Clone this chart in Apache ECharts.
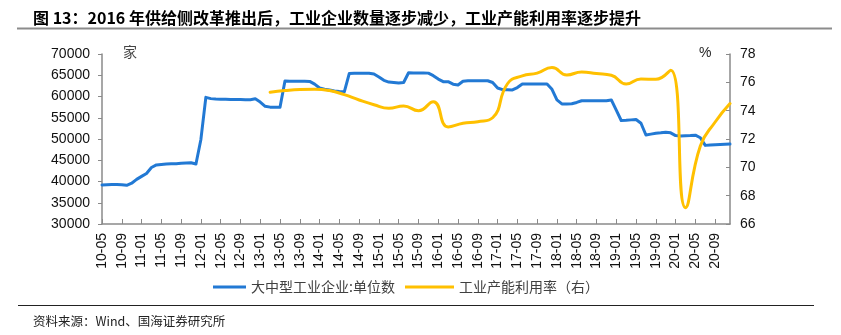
<!DOCTYPE html>
<html>
<head>
<meta charset="utf-8">
<script src="https://cdn.jsdelivr.net/npm/echarts@6/dist/echarts.min.js"></script>
<style>
html,body{margin:0;padding:0;background:#fff;}
#c{width:841px;height:335px;}
</style>
</head>
<body>
<div id="c"></div>
<script>
const titleText = '图 13：2016 年供给侧改革推出后，工业企业数量逐步减少，工业产能利用率逐步提升';
const sourceText = '资料来源：Wind、国海证券研究所';
const seriesNames = ['大中型工业企业:单位数', '工业产能利用率（右）'];

const categories = [
 '10-05','10-06','10-07','10-08','10-09','10-10','10-11','10-12',
 '11-01','11-02','11-03','11-04','11-05','11-06','11-07','11-08','11-09','11-10','11-11','11-12',
 '12-01','12-02','12-03','12-04','12-05','12-06','12-07','12-08','12-09','12-10','12-11','12-12',
 '13-01','13-02','13-03','13-04','13-05','13-06','13-07','13-08','13-09','13-10','13-11','13-12',
 '14-01','14-02','14-03','14-04','14-05','14-06','14-07','14-08','14-09','14-10','14-11','14-12',
 '15-01','15-02','15-03','15-04','15-05','15-06','15-07','15-08','15-09','15-10','15-11','15-12',
 '16-01','16-02','16-03','16-04','16-05','16-06','16-07','16-08','16-09','16-10','16-11','16-12',
 '17-01','17-02','17-03','17-04','17-05','17-06','17-07','17-08','17-09','17-10','17-11','17-12',
 '18-01','18-02','18-03','18-04','18-05','18-06','18-07','18-08','18-09','18-10','18-11','18-12',
 '19-01','19-02','19-03','19-04','19-05','19-06','19-07','19-08','19-09','19-10','19-11','19-12',
 '20-01','20-02','20-03','20-04','20-05','20-06','20-07','20-08','20-09','20-10','20-11','20-12'
];

// 大中型工业企业:单位数 (monthly)
const enterprises = [
 39200,39250,39300,39300,39250,39100,39600,40500,
 41200,41900,43300,43900,44000,44100,44150,44200,44300,44350,44400,44100,
 49900,59800,59500,59400,59350,59350,59300,59300,59300,59250,59250,59450,
 58700,57700,57500,57500,57450,63650,63600,63600,63600,63600,63550,62900,
 62000,61700,61550,61300,61150,61100,65400,65450,65450,65450,65450,65300,
 64600,63800,63400,63300,63150,63300,65600,65550,65550,65550,65500,64900,
 64100,63500,63500,62900,62700,63600,63700,63700,63700,63700,63700,63300,
 62000,61600,61600,61550,62100,62950,62950,62950,62950,62950,62950,61700,
 59200,58250,58250,58300,58600,59000,59000,59000,59000,59000,59000,59200,
 56800,54350,54400,54500,54600,53700,50950,51150,51350,51450,51600,51450,
 50800,50700,50750,50800,50900,50300,48500,48600,48650,48700,48750,48800
];

// 工业产能利用率 (quarterly, %)
const capMonths = [
 '13-03','13-06','13-09','13-12','14-03','14-06','14-09','14-12',
 '15-03','15-06','15-09','15-12','16-03','16-06','16-09','16-12',
 '17-03','17-06','17-09','17-12','18-03','18-06','18-09','18-12',
 '19-03','19-06','19-09','19-12','20-03','20-06','20-09','20-12'
];
const capRate = [
 75.30,75.42,75.50,75.52,75.42,75.13,74.75,74.42,
 74.17,74.33,74.00,74.63,72.85,73.11,73.22,73.50,
 75.90,76.45,76.65,77.05,76.52,76.73,76.62,76.50,
 75.88,76.24,76.21,76.85,67.15,71.50,73.20,74.50
];

const leftTicks = {min: 30000, max: 70000, interval: 5000};
const rightTicks = {min: 66, max: 78, interval: 2};

const axisGray = '#8a8a8a';
const labelFont = {fontFamily: 'Liberation Sans, Arial, sans-serif', fontSize: 14, color: '#111'};
const cjk = 'Noto Sans CJK SC, sans-serif';

const chart = echarts.init(document.getElementById('c'), null, {renderer: 'canvas'});
chart.setOption({
  animation: false,
  backgroundColor: '#fff',
  title: [
    {text: titleText, left: 28, top: 5,
     textStyle: {fontFamily: cjk, fontSize: 16, fontWeight: 'bold', color: '#000'}},
    {text: sourceText, left: 28, top: 310,
     textStyle: {fontFamily: cjk, fontSize: 12.5, fontWeight: 'normal', color: '#222'}}
  ],
  graphic: [
    {type: 'line', shape: {x1: 17, y1: 28.5, x2: 832, y2: 28.5}, style: {stroke: '#8c8c8c', lineWidth: 2}},
    {type: 'line', shape: {x1: 18, y1: 305.5, x2: 814, y2: 305.5}, style: {stroke: '#222', lineWidth: 1.2}},
    {type: 'text', left: 123, top: 45, style: {text: '家', font: '14px "Noto Sans CJK SC"', fill: '#444'}},
    {type: 'text', left: 699, top: 46, style: {text: '%', font: '14px "Liberation Sans"', fill: '#222'}}
  ],
  legend: [
    {data: [seriesNames[0]], left: 208, top: 275, icon: 'rect', itemWidth: 33, itemHeight: 3,
     itemGap: 5, textStyle: {fontFamily: cjk, fontSize: 14, color: '#404040'}},
    {data: [seriesNames[1]], left: 400, top: 275, icon: 'rect', itemWidth: 49, itemHeight: 3,
     itemGap: 5, textStyle: {fontFamily: cjk, fontSize: 14, color: '#404040'}}
  ],
  grid: {left: 102, right: 111, top: 54, bottom: 111, containLabel: false},
  xAxis: {
    type: 'category',
    data: categories,
    boundaryGap: false,
    axisLine: {lineStyle: {color: axisGray, width: 1.5}},
    axisTick: {interval: 3, inside: true, length: 5, lineStyle: {color: axisGray}},
    axisLabel: Object.assign({interval: 3, rotate: 90, margin: 9}, labelFont),
    splitLine: {show: false}
  },
  yAxis: [
    Object.assign({type: 'value', position: 'left',
      axisLine: {show: true, lineStyle: {color: axisGray, width: 1.5}},
      axisTick: {show: true, inside: false, length: 4, lineStyle: {color: axisGray}},
      axisLabel: Object.assign({margin: 12, formatter: v => String(v)}, labelFont),
      splitLine: {show: false}}, leftTicks),
    Object.assign({type: 'value', position: 'right',
      axisLine: {show: true, lineStyle: {color: axisGray, width: 1.5}},
      axisTick: {show: true, inside: true, length: 4, lineStyle: {color: axisGray}},
      axisLabel: Object.assign({margin: 10, formatter: v => String(v)}, labelFont),
      splitLine: {show: false}}, rightTicks)
  ],
  series: [
    {name: seriesNames[0], type: 'line', yAxisIndex: 0, data: enterprises,
     showSymbol: false, symbol: 'none', smooth: false,
     lineStyle: {color: '#2279D4', width: 3, cap: 'round', join: 'round'},
     itemStyle: {color: '#2279D4'}},
    {name: seriesNames[1], type: 'line', yAxisIndex: 1,
     data: capMonths.map((m, i) => [m, capRate[i]]),
     showSymbol: false, symbol: 'none', smooth: 0.5,
     lineStyle: {color: '#FFC000', width: 3, cap: 'round', join: 'round'},
     itemStyle: {color: '#FFC000'}}
  ]
});
</script>
</body>
</html>
